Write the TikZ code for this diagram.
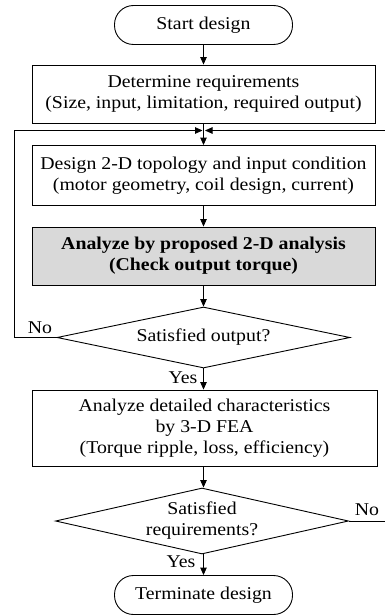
\documentclass[tikz,border=0pt]{standalone}
\usepackage{fontspec}
\setmainfont[FakeStretch=1.1]{Liberation Serif}
\usetikzlibrary{shapes.geometric,arrows.meta}
\begin{document}
\begin{tikzpicture}[x=1pt,y=-1pt,
  every node/.style={font=\fontsize{18}{21}\selectfont, align=center, inner sep=0pt, line width=0.9pt},
  box/.style={draw, rectangle, minimum width=343pt},
  term/.style={draw, rectangle, rounded corners=19pt, minimum width=178pt, minimum height=39pt},
  dec/.style={draw, diamond, aspect=4.8},
  lbl/.style={font=\fontsize{18}{21}\selectfont},
  arr/.style={line width=0.9pt, -{Triangle[length=7.5pt,width=6.5pt]}},
  ln/.style={line width=0.9pt}]
\useasboundingbox (0,0) rectangle (385,615);
\node[term] (start) at (203.5,25) {Start design};
\node[box, minimum height=58pt] (req) at (203.5,94) {Determine requirements\\(Size, input, limitation, required output)};
\node[box, minimum height=60pt] (des) at (203.5,175.5) {Design 2-D topology and input condition\\(motor geometry, coil design, current)};
\node[box, minimum height=58pt, fill={rgb,255:red,217;green,217;blue,217}, font=\fontsize{18}{21}\selectfont\bfseries] (ana) at (203.5,256) {Analyze by proposed 2-D analysis\\(Check output torque)};
\node[dec, minimum width=293pt, minimum height=61pt] (d1) at (203.5,337.5) {Satisfied output?};
\node[box, minimum width=345pt, minimum height=76pt] (fea) at (204.5,428) {Analyze detailed characteristics\\by 3-D FEA\\(Torque ripple, loss, efficiency)};
\node[dec, minimum width=293pt, minimum height=66pt] (d2) at (202,521) {Satisfied\\requirements?};
\node[term] (end) at (203.5,595) {Terminate design};
\coordinate (j) at (203.5,130.5);
\coordinate (jl) at (14,130.5);
\coordinate (jr) at (385,130.5);
\draw[arr] (start) -- (req);
\draw[arr] (req.south) -- (des.north);
\draw[arr] (des) -- (ana);
\draw[arr] (ana) -- (d1);
\draw[arr] (d1) -- (fea.north -| d1.south);
\draw[arr] (fea.south -| d1.south) -- (d2.north -| d1.south);
\draw[arr] (d2.south -| d1.south) -- (end);
\draw[ln] (d1.west) -| (jl);
\draw[arr] (jl) -- ([xshift=-1pt]j);
\draw[ln] (d2.east) -- (d2.east -| jr) -- (jr);
\draw[arr] (jr) -- ([xshift=1.5pt]j);
\node[lbl, anchor=south] (no1) at (40,334) {No};
\node[lbl, anchor=south] (yes1) at (183,384) {Yes};
\node[lbl, anchor=south] (no2) at (367,516) {No};
\node[lbl, anchor=south] (yes2) at (181,568) {Yes};
\end{tikzpicture}
\end{document}
